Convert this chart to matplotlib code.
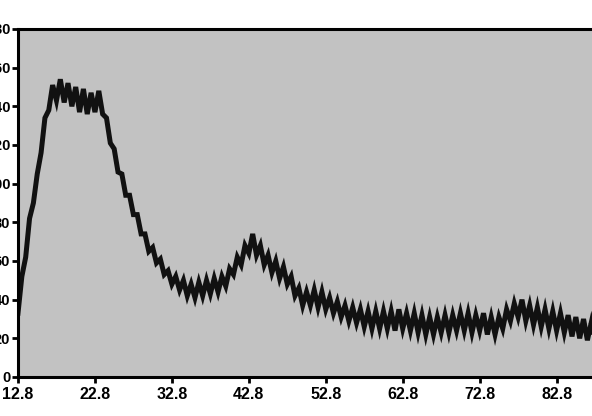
"""Noisy diffraction-style trace on a grey panel, cropped like the source image."""
import matplotlib
matplotlib.use("Agg")
import matplotlib.pyplot as plt
import numpy as np

# 2-theta positions (0.5 step) and intensity
two_theta = np.arange(151) * 0.5 + 12.8
intensity = [
    33, 52, 62, 82, 90, 105, 116, 134, 138, 151,
    143, 154, 142, 152, 140, 150, 137, 149, 136, 147,
    137, 148, 136, 134, 121, 118, 106, 105, 94, 94,
    84, 84, 74, 74, 65, 67, 59, 61, 53, 55,
    48, 52, 45, 50, 42, 48, 41, 49, 42, 50,
    43, 51, 44, 52, 47, 56, 53, 62, 58, 68,
    64, 74, 63, 68, 58, 63, 54, 60, 51, 57,
    48, 52, 42, 46, 37, 44, 37, 45, 36, 44,
    35, 41, 33, 39, 31, 37, 29, 36, 28, 35,
    26, 34, 25, 34, 25, 34, 25, 34, 24, 35,
    25, 33, 24, 33, 23, 32, 22, 31, 22, 31,
    23, 32, 23, 32, 24, 33, 24, 33, 23, 32,
    24, 33, 22, 31, 22, 31, 25, 35, 29, 38,
    31, 40, 29, 37, 27, 36, 26, 35, 25, 34,
    24, 33, 23, 32, 21, 31, 20, 30, 19, 28,
    18,
]
x_ticks = [12.8, 22.8, 32.8, 42.8, 52.8, 62.8, 72.8, 82.8]
y_ticks = [0, 20, 40, 60, 80, 100, 120, 140, 160, 180]

plt.rcParams["font.family"] = ["Liberation Sans", "DejaVu Sans"]

W, H = 592, 416
fig = plt.figure(figsize=(W / 100, H / 100), dpi=100)
# axes run off the right edge of the picture, as in the cropped original
ax = fig.add_axes([18 / W, 39 / H, 594 / W, 348 / H])
ax.set_facecolor("#c2c2c2")

ax.plot(two_theta, intensity, color="#111111", lw=3.6, solid_joinstyle="miter")

ax.set_xlim(12.8, 90.0)
ax.set_ylim(0, 180)
ax.set_xticks(x_ticks)
ax.set_xticklabels([f"{t:.1f}" for t in x_ticks])
ax.set_yticks(y_ticks)
ax.set_yticklabels([str(t) for t in y_ticks])

for side in ["left", "bottom", "top", "right"]:
    ax.spines[side].set_linewidth(2.2)
ax.tick_params(direction="out", length=4, width=2, pad=3)
ax.tick_params(axis="x", labelsize=11.5)
ax.tick_params(axis="y", labelsize=10.5, pad=1.5)
for lab in ax.get_xticklabels() + ax.get_yticklabels():
    lab.set_fontweight("bold")

fig.savefig("out.png", dpi=100, facecolor="white")
plt.close(fig)
